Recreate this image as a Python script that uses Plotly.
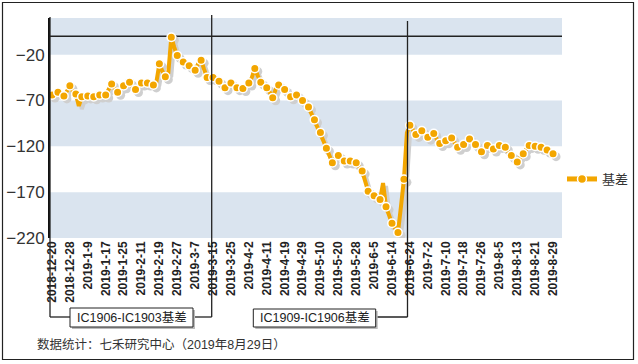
import pandas as pd
import plotly.graph_objects as go

# ---------------- data ----------------
holidays = ["2018-12-31", "2019-01-01", "2019-02-04", "2019-02-05", "2019-02-06",
            "2019-02-07", "2019-02-08", "2019-04-05", "2019-05-01", "2019-05-02",
            "2019-05-03", "2019-06-07"]
trade_days = pd.bdate_range("2018-12-20", "2019-08-29", freq="C", holidays=holidays)
dates = [f"{d.year}-{d.month}-{d.day}" for d in trade_days]

basis = [
    -64, -62, -61, -63, -65, -60, -54, -60, -63, -76,
    -66, -64, -65, -67, -66, -63, -64, -65, -64, -58,
    -52, -57, -61, -58, -54, -51, -50, -55, -58, -54,
    -51, -52, -51, -52, -53, -50, -30, -38, -44, -40,
    -1, -12, -21, -25, -28, -30, -32, -35, -37, -30,
    -26, -36, -45, -44, -45, -47, -49, -53, -56, -53,
    -51, -54, -56, -55, -57, -53, -51, -45, -35, -43,
    -50, -53, -56, -61, -67, -58, -53, -56, -58, -62,
    -66, -63, -64, -68, -70, -73, -77, -84, -91, -98,
    -105, -114, -122, -130, -138, -133, -130, -134, -136, -134,
    -136, -137, -138, -142, -147, -158, -169, -172, -174, -176,
    -178, -160, -186, -195, -204, -209, -214, -186, -156, -105,
    -97, -102, -107, -105, -103, -107, -110, -108, -106, -112,
    -117, -115, -114, -112, -111, -116, -121, -120, -118, -115,
    -112, -115, -118, -122, -126, -122, -119, -121, -123, -121,
    -119, -120, -121, -126, -130, -134, -137, -132, -128, -123,
    -119, -120, -120, -121, -121, -123, -124, -126, -128,
]

tick_labels = ["2018-12-20", "2018-12-28", "2019-1-9", "2019-1-17", "2019-1-25",
               "2019-2-11", "2019-2-19", "2019-2-27", "2019-3-7", "2019-3-15",
               "2019-3-25", "2019-4-2", "2019-4-11", "2019-4-19", "2019-4-29",
               "2019-5-10", "2019-5-20", "2019-5-28", "2019-6-5", "2019-6-14",
               "2019-6-24", "2019-7-2", "2019-7-10", "2019-7-18", "2019-7-26",
               "2019-8-5", "2019-8-13", "2019-8-21", "2019-8-29"]
y_ticks = [-220, -170, -120, -70, -20]
bands = [(-220, -170), (-120, -70), (-20, 20)]

series_name = "基差"
period_labels = ["IC1906-IC1903基差", "IC1909-IC1906基差"]
source_note = "数据统计：七禾研究中心（2019年8月29日）"

# ---------------- style ----------------
W, H = 638, 364
ML, MR, MT, MB = 50, 76, 18, 126
PW, PH = W - ML - MR, H - MT - MB
ORANGE = "#F3A600"
BAND = "#DAE4EF"
SHADOW = "#CFCFCF"
FONT = "Arial, Liberation Sans, Noto Sans CJK SC, sans-serif"

def fx(px):
    return (px - ML) / PW

def fy(py):
    return (H - MB - py) / PH

x_range = [-0.67, 171]
y_range = [-220, 20]
shadow_dx, shadow_dy = 1.0, 3.3

mk_dates = dates[::2]
mk_vals = basis[::2]

fig = go.Figure()
# shadow (base axes, shifted ranges)
fig.add_trace(go.Scatter(x=dates, y=basis, mode="lines", xaxis="x", yaxis="y",
                         line=dict(color=SHADOW, width=4), showlegend=False, hoverinfo="skip"))
fig.add_trace(go.Scatter(x=mk_dates, y=mk_vals, mode="markers", xaxis="x", yaxis="y",
                         marker=dict(color=SHADOW, size=9), showlegend=False, hoverinfo="skip"))
# main series
fig.add_trace(go.Scatter(x=dates, y=basis, mode="lines", xaxis="x2", yaxis="y2",
                         line=dict(color=ORANGE, width=4), showlegend=False))
fig.add_trace(go.Scatter(x=mk_dates, y=mk_vals, mode="markers", xaxis="x2", yaxis="y2",
                         marker=dict(color=ORANGE, size=8.5, line=dict(color="white", width=1.5)),
                         showlegend=False))
# legend entry
fig.add_trace(go.Scatter(x=[None], y=[None], mode="lines+markers", xaxis="x2", yaxis="y2",
                         name=series_name,
                         line=dict(color=ORANGE, width=5),
                         marker=dict(color=ORANGE, size=9, line=dict(color="white", width=1.5))))

shapes = []
for lo, hi in bands:
    shapes.append(dict(type="rect", xref="paper", yref="y2", x0=0, x1=1, y0=lo, y1=hi,
                       fillcolor=BAND, line=dict(width=0), layer="below"))
shapes.append(dict(type="line", xref="paper", yref="y2", x0=0, x1=1, y0=0, y1=0,
                   line=dict(color="#222", width=1.5), layer="below"))

def pline(x0, y0, x1, y1, w=1.3, color="#222"):
    shapes.append(dict(type="line", xref="paper", yref="paper", x0=fx(x0), y0=fy(y0),
                       x1=fx(x1), y1=fy(y1), line=dict(color=color, width=w), layer="above"))

# outer frame
shapes.append(dict(type="rect", xref="paper", yref="paper", x0=fx(2.5), x1=fx(633.5),
                   y0=fy(359.5), y1=fy(2.5), line=dict(color="#222", width=1.2), layer="below"))
# bracket lines
pline(50, 17, 50, 317)
pline(50, 317, 70, 317)
pline(193, 317, 211.7, 317)
pline(211.7, 15, 211.7, 317)
pline(375.7, 317, 407.5, 317)
pline(407.5, 21, 407.5, 317)
# label boxes
for (x0, x1, y0, y1) in [(70, 193, 308, 327), (253.3, 375.7, 309, 327)]:
    shapes.append(dict(type="rect", xref="paper", yref="paper", x0=fx(x0 + 2), x1=fx(x1 + 2),
                       y0=fy(y1 + 2), y1=fy(y0 + 2), fillcolor="#BBBBBB",
                       line=dict(width=0), layer="above"))
    shapes.append(dict(type="rect", xref="paper", yref="paper", x0=fx(x0), x1=fx(x1),
                       y0=fy(y1), y1=fy(y0), fillcolor="white",
                       line=dict(color="#222", width=1), layer="above"))

annotations = [
    dict(text=period_labels[0], xref="paper", yref="paper", x=fx(131.5), y=fy(317.5),
         showarrow=False, xanchor="center", yanchor="middle",
         font=dict(size=12.5, color="#222", family=FONT)),
    dict(text=period_labels[1], xref="paper", yref="paper", x=fx(314.5), y=fy(318),
         showarrow=False, xanchor="center", yanchor="middle",
         font=dict(size=12.5, color="#222", family=FONT)),
    dict(text=source_note, xref="paper", yref="paper", x=fx(35), y=fy(344),
         showarrow=False, xanchor="left", yanchor="middle",
         font=dict(size=12.5, color="#333", family=FONT)),
]

fig.update_layout(
    width=W, height=H,
    margin=dict(l=ML, r=MR, t=MT, b=MB, pad=0, autoexpand=False),
    paper_bgcolor="white", plot_bgcolor="rgba(0,0,0,0)",
    font=dict(family=FONT, color="#333"),
    xaxis=dict(type="category", categoryorder="array", categoryarray=dates,
               range=[x_range[0] - shadow_dx, x_range[1] - shadow_dx], visible=False),
    yaxis=dict(range=[y_range[0] + shadow_dy, y_range[1] + shadow_dy], visible=False),
    xaxis2=dict(type="category", categoryorder="array", categoryarray=dates,
                overlaying="x", anchor="y2", range=x_range,
                tickmode="array", tickvals=tick_labels, ticktext=tick_labels,
                tickangle=-90, ticks="", showgrid=False, zeroline=False, showline=False,
                automargin=False,
                tickfont=dict(size=12, color="#222", family=FONT, weight="bold")),
    yaxis2=dict(overlaying="y", anchor="x2", range=y_range, automargin=False,
                tickmode="array", tickvals=y_ticks, ticks="", showgrid=False,
                zeroline=False, showline=True, linecolor="#111", linewidth=2,
                tickfont=dict(size=17, color="#333", family=FONT)),
    showlegend=True,
    legend=dict(x=fx(562), y=fy(179), xanchor="left", yanchor="middle",
                bgcolor="rgba(0,0,0,0)", font=dict(size=13, color="#333", family=FONT)),
    shapes=shapes, annotations=annotations,
    hovermode=False,
)

fig.write_html("out.html", config={"displayModeBar": False},
               post_script="document.body.style.margin='0';document.body.style.padding='0';")
